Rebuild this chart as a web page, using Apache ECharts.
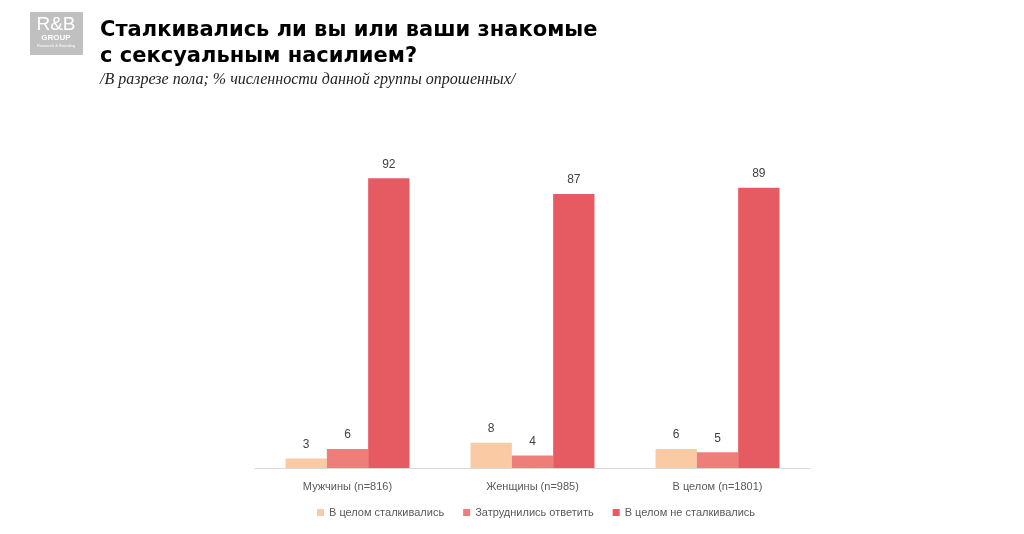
<!DOCTYPE html>
<html><head><meta charset="utf-8">
<script src="https://cdn.jsdelivr.net/npm/echarts@6/dist/echarts.min.js"></script>
<style>html,body{margin:0;padding:0;background:#fff}#c{width:1024px;height:534px}</style>
</head><body><div id="c"></div>
<script>
const categories = ['Мужчины (n=816)', 'Женщины (n=985)', 'В целом (n=1801)'];
const seriesNames = ['В целом сталкивались', 'Затруднились ответить', 'В целом не сталкивались'];
const experienced = [3, 8, 6];
const hardToSay = [6, 4, 5];
const notExperienced = [92, 87, 89];
const colors = ['#FACAA4', '#EE7E7A', '#E65A61'];

const chart = echarts.init(document.getElementById('c'));
const mk = (name, data, color) => ({
  name, type: 'bar', data, barGap: '0%', barCategoryGap: '33%',
  itemStyle: { color },
  label: { show: true, position: 'top', distance: 8, color: '#404040', fontSize: 12, fontFamily: 'Liberation Sans' }
});
chart.setOption({
  animation: false,
  title: [
    { text: 'Сталкивались ли вы или ваши знакомые\nс сексуальным насилием?', left: 100, top: 18, padding: 0,
      textStyle: { fontFamily: 'DejaVu Sans', fontWeight: 'bold', fontSize: 21, color: '#000', lineHeight: 26 } },
    { text: '/В разрезе пола; % численности данной группы опрошенных/', left: 100, top: 72, padding: 0,
      textStyle: { fontFamily: 'Liberation Serif', fontStyle: 'italic', fontWeight: 'normal', fontSize: 16, color: '#222' } }
  ],
  graphic: [
    { type: 'rect', shape: { x: 30, y: 12, width: 53, height: 43 }, style: { fill: '#C0C0C0' } },
    { type: 'text', style: { x: 56, y: 15, text: 'R&B', fill: '#fff', font: '19px Liberation Sans', align: 'center' } },
    { type: 'text', style: { x: 56, y: 34, text: 'GROUP', fill: '#fff', font: 'bold 8px Liberation Sans', align: 'center' } },
    { type: 'text', style: { x: 56, y: 44, text: 'Research & Branding', fill: '#fff', font: '4px Liberation Sans', align: 'center' } }
  ],
  legend: {
    bottom: 11, left: 312, itemWidth: 7, itemHeight: 7, itemGap: 19,
    icon: 'rect',
    textStyle: { fontFamily: 'Liberation Sans', fontSize: 11, color: '#595959' },
    data: seriesNames
  },
  grid: { left: 255, right: 214, top: 153, bottom: 66 },
  xAxis: {
    type: 'category', data: categories,
    axisLine: { lineStyle: { color: '#D9D9D9', width: 1 } },
    axisTick: { show: false },
    axisLabel: { color: '#595959', fontSize: 11, fontFamily: 'Liberation Sans', margin: 13 }
  },
  yAxis: { type: 'value', min: 0, max: 100, show: false, splitLine: { show: false } },
  series: [
    mk(seriesNames[0], experienced, colors[0]),
    mk(seriesNames[1], hardToSay, colors[1]),
    mk(seriesNames[2], notExperienced, colors[2])
  ]
});
</script></body></html>
